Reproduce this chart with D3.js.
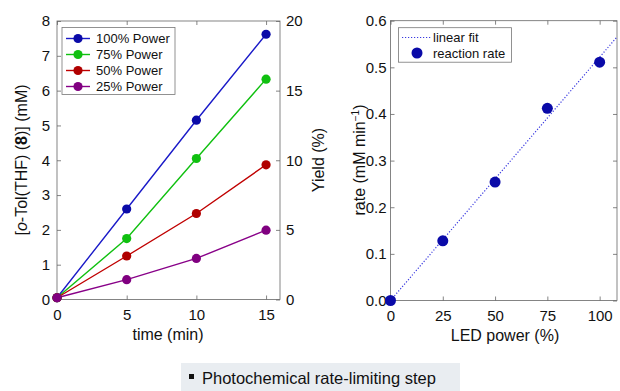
<!DOCTYPE html>
<html>
<head>
<meta charset="utf-8">
<script src="https://cdn.jsdelivr.net/npm/d3@7"></script>
<style>
  body { margin: 0; background: #fff; }
  text { font-family: "Liberation Sans", Arial, Helvetica, sans-serif; }
</style>
</head>
<body>
<div id="chart"></div>
<script>
// chart data
var times = [0, 5, 10, 15];
var seriesNames = ["100% Power", "75% Power", "50% Power", "25% Power"];
var seriesColors = ["#1a1ac8", "#10c010", "#c00000", "#880088"];
var markerColors = ["#0a0aa8", "#10c010", "#b00000", "#800080"];
var conc100 = [0.05, 2.6, 5.15, 7.62];
var conc75 = [0.05, 1.75, 4.05, 6.33];
var conc50 = [0.05, 1.25, 2.47, 3.87];
var conc25 = [0.05, 0.57, 1.18, 1.99];
var allConc = [conc100, conc75, conc50, conc25];

var ledPower = [0, 25, 50, 75, 100];
var rates = [0.0, 0.128, 0.254, 0.412, 0.511];
var fitX = [0, 110];
var fitY = [0, 0.574];

var svg = d3.select("#chart").append("svg")
  .attr("width", 620).attr("height", 391);

var fs = 15;

// ---- left chart ----
var L = { left: 57, right: 280, top: 21, bottom: 299.5 };
var x1 = d3.scaleLinear().domain([0, 16]).range([L.left, L.right]);
var y1 = d3.scaleLinear().domain([0, 8]).range([L.bottom, L.top]);
var y1r = d3.scaleLinear().domain([0, 20]).range([L.bottom, L.top]);

var g1 = svg.append("g");
g1.append("rect")
  .attr("x", L.left).attr("y", L.top)
  .attr("width", L.right - L.left).attr("height", L.bottom - L.top)
  .attr("fill", "none").attr("stroke", "#666").attr("stroke-width", 0.8);

function styleAxis(ax) {
  ax.select(".domain").remove();
  ax.selectAll("line").attr("stroke", "#666").attr("stroke-width", 0.8);
  ax.selectAll("text").attr("fill", "#111").style("font-size", fs + "px")
    .style("font-family", "Liberation Sans, Arial, sans-serif");
}

g1.append("g").attr("transform", `translate(0,${L.bottom})`)
  .call(d3.axisBottom(x1).tickValues([0, 5, 10, 15]).tickSize(-4).tickPadding(10))
  .call(styleAxis);
g1.append("g").attr("transform", `translate(0,${L.top})`)
  .call(d3.axisTop(x1).tickValues([0, 5, 10, 15]).tickSize(-4).tickFormat(""))
  .call(styleAxis);
g1.append("g").attr("transform", `translate(${L.left},0)`)
  .call(d3.axisLeft(y1).ticks(8).tickSize(-4).tickPadding(7))
  .call(styleAxis);
g1.append("g").attr("transform", `translate(${L.right},0)`)
  .call(d3.axisRight(y1r).tickValues([0, 5, 10, 15, 20]).tickSize(-4).tickPadding(6))
  .call(styleAxis);

var line1 = d3.line().x((d, i) => x1(times[i])).y(d => y1(d));
allConc.forEach(function(vals, k) {
  g1.append("path").datum(vals)
    .attr("d", line1)
    .attr("fill", "none")
    .attr("stroke", seriesColors[k])
    .attr("stroke-width", 1.4);
});
allConc.forEach(function(vals, k) {
  g1.selectAll(null).data(vals).enter().append("circle")
    .attr("cx", (d, i) => x1(times[i]))
    .attr("cy", d => y1(d))
    .attr("r", 4.6)
    .attr("fill", markerColors[k]);
});

// legend left
var lg = g1.append("g");
lg.append("rect").attr("x", 62).attr("y", 27.5).attr("width", 113).attr("height", 67)
  .attr("fill", "#fff").attr("stroke", "#777").attr("stroke-width", 0.8);
seriesNames.forEach(function(name, k) {
  var yy = 38.5 + k * 16;
  lg.append("line").attr("x1", 66).attr("x2", 90).attr("y1", yy).attr("y2", yy)
    .attr("stroke", seriesColors[k]).attr("stroke-width", 1.4);
  lg.append("circle").attr("cx", 78).attr("cy", yy).attr("r", 4.6).attr("fill", markerColors[k]);
  lg.append("text").attr("x", 96).attr("y", yy + 4.5).text(name)
    .style("font-size", "13px").attr("fill", "#111");
});

g1.append("text").attr("x", 168).attr("y", 340).attr("text-anchor", "middle")
  .style("font-size", "16px").attr("fill", "#111").text("time (min)");

var ylab = g1.append("text")
  .attr("transform", "translate(27,160) rotate(-90)")
  .attr("text-anchor", "middle").style("font-size", "16px").attr("fill", "#111");
ylab.append("tspan").text("[");
ylab.append("tspan").style("font-style", "italic").text("o");
ylab.append("tspan").text("-Tol(THF) (");
ylab.append("tspan").style("font-weight", "bold").text("8");
ylab.append("tspan").text(")] (mM)");

g1.append("text").attr("transform", "translate(324,160) rotate(-90)")
  .attr("text-anchor", "middle").style("font-size", "16px").attr("fill", "#111")
  .text("Yield (%)");

// ---- right chart ----
var R = { left: 390.5, right: 617, top: 20.7, bottom: 300.5 };
var x2 = d3.scaleLinear().domain([0, 108.3]).range([R.left, R.right]);
var y2 = d3.scaleLinear().domain([0, 0.6]).range([R.bottom, R.top]);

var g2 = svg.append("g");
g2.append("rect")
  .attr("x", R.left).attr("y", R.top)
  .attr("width", R.right - R.left).attr("height", R.bottom - R.top)
  .attr("fill", "none").attr("stroke", "#666").attr("stroke-width", 0.8);

g2.append("g").attr("transform", `translate(0,${R.bottom})`)
  .call(d3.axisBottom(x2).tickValues(ledPower).tickSize(-4).tickPadding(10))
  .call(styleAxis);
g2.append("g").attr("transform", `translate(0,${R.top})`)
  .call(d3.axisTop(x2).tickValues(ledPower).tickSize(-4).tickFormat(""))
  .call(styleAxis);
g2.append("g").attr("transform", `translate(${R.left},0)`)
  .call(d3.axisLeft(y2).ticks(6).tickFormat(d3.format(".1f")).tickSize(-4).tickPadding(4))
  .call(styleAxis);
g2.append("g").attr("transform", `translate(${R.right},0)`)
  .call(d3.axisRight(y2).ticks(6).tickSize(-4).tickFormat(""))
  .call(styleAxis);

svg.append("clipPath").attr("id", "clipR").append("rect")
  .attr("x", R.left).attr("y", R.top).attr("width", R.right - R.left).attr("height", R.bottom - R.top);

g2.append("path").datum(fitX)
  .attr("clip-path", "url(#clipR)")
  .attr("d", d3.line().x(d => x2(d)).y((d, i) => y2(fitY[i])))
  .attr("fill", "none").attr("stroke", "#3a3ae0").attr("stroke-width", 1.2)
  .attr("stroke-dasharray", "1.2,1.8");

g2.selectAll(null).data(rates).enter().append("circle")
  .attr("cx", (d, i) => x2(ledPower[i]))
  .attr("cy", d => y2(d))
  .attr("r", 5.5)
  .attr("fill", "#0a0aa8");

var lg2 = g2.append("g");
lg2.append("rect").attr("x", 398.5).attr("y", 27.7).attr("width", 113).attr("height", 34.5)
  .attr("fill", "#fff").attr("stroke", "#777").attr("stroke-width", 0.8);
lg2.append("line").attr("x1", 402).attr("x2", 431).attr("y1", 37.5).attr("y2", 37.5)
  .attr("stroke", "#3a3ae0").attr("stroke-width", 1.2).attr("stroke-dasharray", "1.2,1.8");
lg2.append("text").attr("x", 433).attr("y", 42).text("linear fit")
  .style("font-size", "13px").attr("fill", "#111");
lg2.append("circle").attr("cx", 417).attr("cy", 53).attr("r", 5.5).attr("fill", "#0a0aa8");
lg2.append("text").attr("x", 433).attr("y", 57.5).text("reaction rate")
  .style("font-size", "13px").attr("fill", "#111");

g2.append("text").attr("x", 505).attr("y", 341).attr("text-anchor", "middle")
  .style("font-size", "16px").attr("fill", "#111").text("LED power (%)");

var rlab = g2.append("text").attr("transform", "translate(365,160) rotate(-90)")
  .attr("text-anchor", "middle").style("font-size", "16px").attr("fill", "#111");
rlab.append("tspan").text("rate (mM min");
rlab.append("tspan").attr("dy", -6).style("font-size", "10px").text("\u22121");
rlab.append("tspan").attr("dy", 6).text(")");

// ---- caption ----
svg.append("rect").attr("x", 181).attr("y", 363).attr("width", 279).attr("height", 28)
  .attr("fill", "#e9edf1");
svg.append("rect").attr("x", 189).attr("y", 374).attr("width", 5).attr("height", 5).attr("fill", "#111");
svg.append("text").attr("x", 202).attr("y", 384).style("font-size", "16.5px").attr("fill", "#111")
  .text("Photochemical rate-limiting step");
</script>
</body>
</html>
